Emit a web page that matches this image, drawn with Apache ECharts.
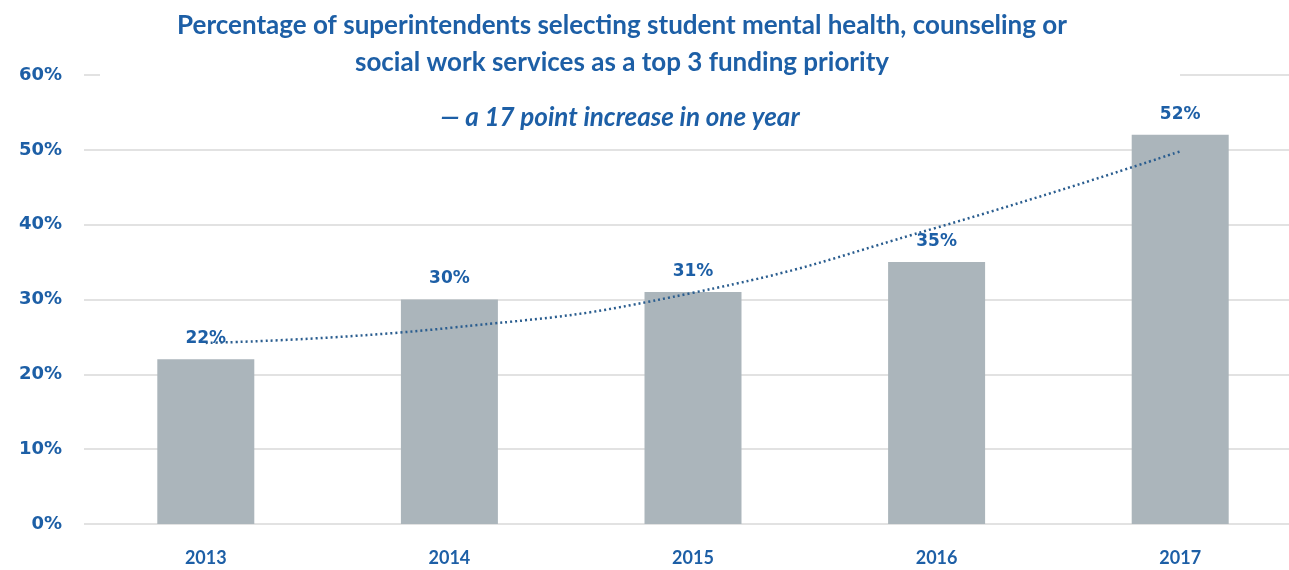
<!DOCTYPE html>
<html>
<head>
<meta charset="utf-8">
<script src="https://cdn.jsdelivr.net/npm/echarts@6/dist/echarts.min.js"></script>
<style>
html,body{margin:0;padding:0;background:#fff;}
#chart{width:1289px;height:570px;}
</style>
</head>
<body>
<div id="chart"></div>
<script>
var years = ['2013', '2014', '2015', '2016', '2017'];
var percentSelecting = [22, 30, 31, 35, 52];
var trendValues = [24.2, 26.2, 30.9, 39.6, 49.8];
var yTicks = [0, 10, 20, 30, 40, 50, 60];

var blue = '#1d5fa6';
var chart = echarts.init(document.getElementById('chart'));
chart.setOption({
  animation: false,
  backgroundColor: '#fff',
  title: [
    {
      text: 'Percentage of superintendents selecting student mental health, counseling or\nsocial work services as a top 3 funding priority',
      left: 617, top: 2, textAlign: 'center',
      z: 200,
      textStyle: { fontFamily: 'Lato', fontWeight: 'bold', fontSize: 26, lineHeight: 37, color: blue }
    },
    {
      text: '— a 17 point increase in one year',
      left: 615, top: 100, textAlign: 'center',
      z: 200,
      textStyle: { fontFamily: 'Lato', fontWeight: 'bold', fontStyle: 'italic', fontSize: 26, color: blue }
    }
  ],
  graphic: [
    { type: 'rect', z: 100, shape: { x: 100, y: 66, width: 1080, height: 16 }, style: { fill: '#fff' } }
  ],
  grid: { left: 84, top: 75, width: 1218, bottom: 46, outerBoundsMode: 'none' },
  xAxis: {
    type: 'category',
    data: years,
    axisLine: { show: false },
    axisTick: { show: false },
    axisLabel: { margin: 25, color: blue, fontFamily: 'Lato', fontWeight: 'bold', fontSize: 18 }
  },
  yAxis: {
    type: 'value',
    min: yTicks[0], max: yTicks[yTicks.length - 1], interval: 10,
    axisLine: { show: false },
    axisTick: { show: false },
    splitLine: { lineStyle: { color: '#e2e2e2', width: 2 } },
    axisLabel: { margin: 22, color: blue, fontFamily: 'DejaVu Sans', fontWeight: 'bold', fontSize: 18, formatter: '{value}%' }
  },
  series: [
    {
      type: 'bar',
      data: percentSelecting,
      barWidth: 97,
      itemStyle: { color: '#abb5bb' },
      label: { show: true, position: 'top', distance: 12, formatter: '{c}%', color: blue, fontFamily: 'DejaVu Sans', fontWeight: 'bold', fontSize: 17 },
      z: 2
    },
    {
      type: 'line',
      data: trendValues,
      smooth: true,
      symbol: 'none',
      lineStyle: { color: '#2a5d8f', width: 2.5, type: [2, 3] },
      z: 5
    }
  ]
});
</script>
</body>
</html>
